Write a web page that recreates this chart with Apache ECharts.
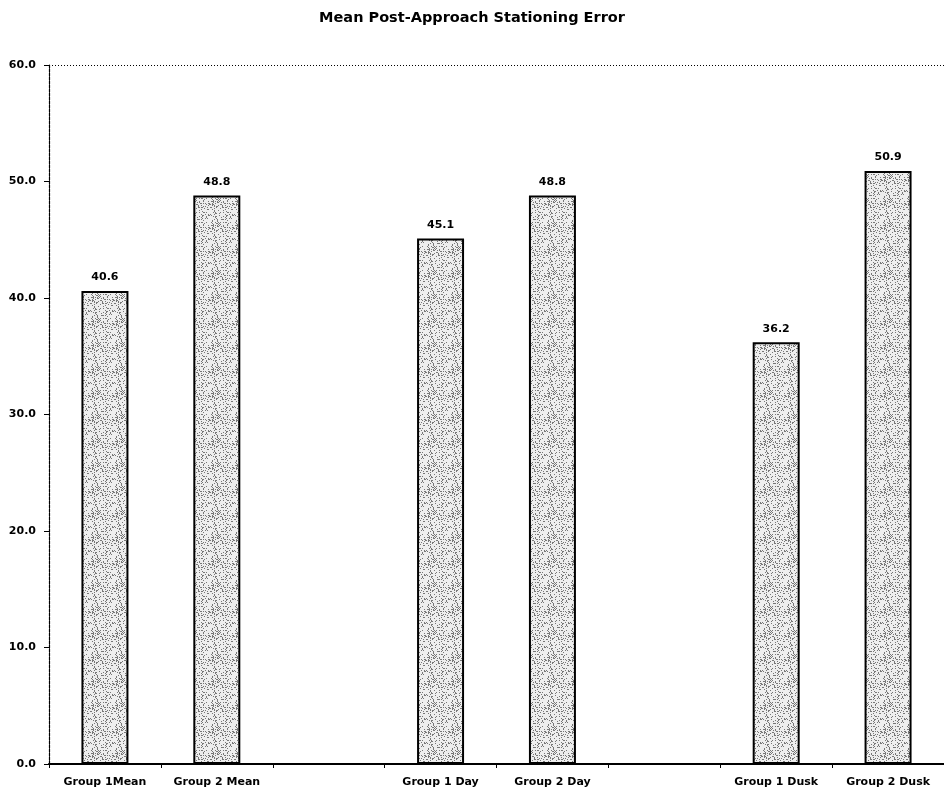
<!DOCTYPE html>
<html><head><meta charset="utf-8">
<script src="https://cdn.jsdelivr.net/npm/echarts@6/dist/echarts.min.js"></script>
<style>html,body{margin:0;padding:0;background:#fff}#c{width:944px;height:793px}</style>
</head><body><div id="c"></div>
<script>
const categories = ['Group 1Mean', 'Group 2 Mean', '', 'Group 1 Day', 'Group 2 Day', '', 'Group 1 Dusk', 'Group 2 Dusk'];
const values = [40.6, 48.8, null, 45.1, 48.8, null, 36.2, 50.9];
const yTicks = [0, 10, 20, 30, 40, 50, 60];

// stipple texture for bar fill
const pc = document.createElement('canvas');
pc.width = 24; pc.height = 24;
const pctx = pc.getContext('2d');
pctx.fillStyle = '#eeeeee';
pctx.fillRect(0, 0, 24, 24);
pctx.fillStyle = '#787878';
for (let y = 0; y < 24; y++) {
  for (let x = 0; x < 24; x++) {
    const h = ((x * 73856093) ^ (y * 19349663)) >>> 0;
    if (h % 7 === 0 || h % 13 === 3) pctx.fillRect(x, y, 1, 1);
  }
}

const chart = echarts.init(document.getElementById('c'), null, {renderer: 'canvas'});
const font = '"DejaVu Sans", "Liberation Sans", Arial, sans-serif';
chart.setOption({
  animation: false,
  title: {
    text: 'Mean Post-Approach Stationing Error',
    left: 'center', top: 6,
    textStyle: {fontFamily: font, fontSize: 14.5, fontWeight: 'bold', color: '#000'}
  },
  grid: {left: 49, top: 65, bottom: 29, width: 898, containLabel: false},
  xAxis: {
    type: 'category', data: categories,
    axisLine: {lineStyle: {color: '#000', width: 2}},
    axisTick: {show: true, length: 4, lineStyle: {color: '#000'}},
    axisLabel: {fontFamily: font, fontSize: 11, fontWeight: 'bold', color: '#000', margin: 13, interval: 0},
  },
  yAxis: {
    type: 'value', min: 0, max: 60, interval: 10,
    axisLine: {show: true, lineStyle: {color: '#000', width: 1.2, type: [3, 1]}},
    axisTick: {show: true, length: 5, lineStyle: {color: '#000'}},
    axisLabel: {fontFamily: font, fontSize: 11, fontWeight: 'bold', color: '#000', margin: 13,
      formatter: v => yTicks.includes(v) ? v.toFixed(1) : ''},
    splitLine: {show: false}
  },
  series: [{
    type: 'bar', data: values, barWidth: '42%',
    itemStyle: {color: {image: pc, repeat: 'repeat'}, borderColor: '#000', borderWidth: 2},
    label: {show: true, position: 'top', distance: 8, fontFamily: font, fontSize: 11, fontWeight: 'bold', color: '#000',
      formatter: p => p.value == null ? '' : p.value.toFixed(1)},
    markLine: {symbol: 'none', silent: true, label: {show: false},
      lineStyle: {color: '#000', width: 1, type: [1, 2]},
      data: [{yAxis: yTicks[yTicks.length - 1]}]}
  }]
});
</script></body></html>
